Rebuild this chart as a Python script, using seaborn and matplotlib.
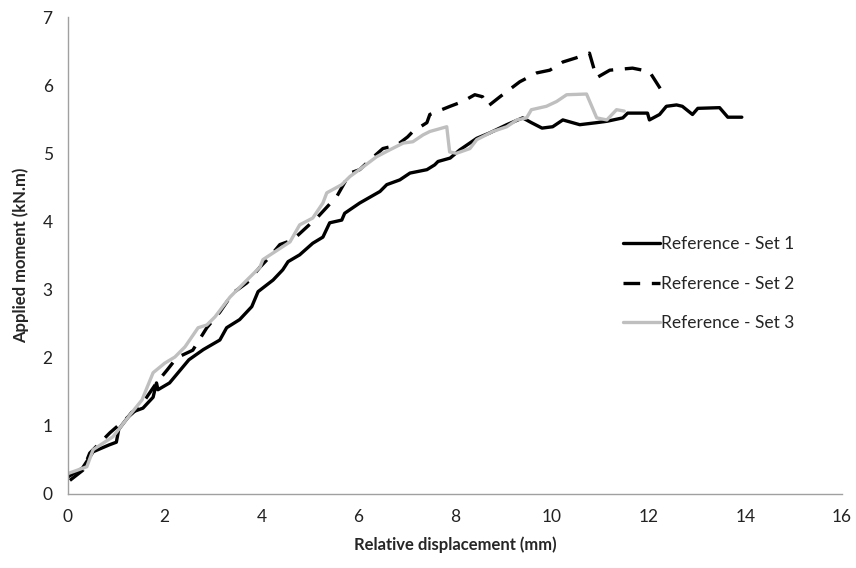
import matplotlib
matplotlib.use("Agg")
import matplotlib.pyplot as plt
import seaborn as sns
import pandas as pd

set1_x = [0.0, 0.3, 0.52, 0.85, 1.0, 1.05, 1.32, 1.55, 1.76, 1.83, 1.86, 2.1, 2.5, 2.8, 3.14, 3.28, 3.55, 3.8, 3.93,
          4.24, 4.44, 4.55, 4.79, 5.06, 5.27, 5.41, 5.66, 5.72, 6.03, 6.45, 6.59, 6.86, 7.07, 7.42, 7.58, 7.65,
          7.9, 8.1, 8.45, 8.72, 9.07, 9.4, 9.58, 9.8, 10.02, 10.23, 10.58, 10.93, 11.14, 11.47, 11.57, 11.98,
          12.02, 12.23, 12.37, 12.58, 12.7, 12.91, 13.02, 13.47, 13.64, 13.93]
set1_y = [0.25, 0.38, 0.62, 0.72, 0.76, 0.95, 1.2, 1.26, 1.42, 1.63, 1.53, 1.63, 1.97, 2.12, 2.26, 2.44, 2.56, 2.75, 2.97,
          3.14, 3.29, 3.41, 3.51, 3.68, 3.77, 3.98, 4.02, 4.12, 4.27, 4.44, 4.54, 4.61, 4.71, 4.76, 4.83, 4.88,
          4.93, 5.05, 5.22, 5.3, 5.42, 5.52, 5.45, 5.37, 5.39, 5.49, 5.42, 5.45, 5.47, 5.52, 5.59, 5.59,
          5.49, 5.57, 5.69, 5.71, 5.69, 5.57, 5.66, 5.67, 5.53, 5.53]

set2_x = [0.04, 0.31, 0.45, 0.87, 1.34, 1.55, 1.83, 2.05, 2.25, 2.58, 2.87, 3.14, 3.41, 3.7, 3.97, 4.17, 4.38, 4.65,
          5.17, 5.56, 5.83, 6.03, 6.24, 6.51, 6.8, 7.02, 7.13, 7.42, 7.48, 7.9, 8.16, 8.41, 8.57, 8.68, 8.93,
          9.34, 9.69, 9.96, 10.23, 10.5, 10.78, 10.89, 10.93, 11.2, 11.67, 12.02, 12.37]
set2_y = [0.2, 0.35, 0.6, 0.9, 1.19, 1.34, 1.63, 1.82, 2.0, 2.11, 2.44, 2.67, 2.95, 3.1, 3.33, 3.48, 3.66, 3.73,
          4.07, 4.37, 4.71, 4.76, 4.9, 5.07, 5.12, 5.24, 5.32, 5.45, 5.57, 5.69, 5.76, 5.86, 5.83, 5.69, 5.83,
          6.05, 6.18, 6.22, 6.34, 6.4, 6.47, 6.2, 6.11, 6.22, 6.25, 6.2, 5.81]

set3_x = [0.0, 0.39, 0.52, 0.93, 1.28, 1.53, 1.76, 2.0, 2.21, 2.42, 2.69, 2.87, 3.04, 3.35, 3.7, 3.97, 4.03, 4.59,
          4.79, 5.06, 5.27, 5.35, 5.66, 5.83, 6.1, 6.38, 6.65, 6.93, 7.13, 7.34, 7.48, 7.83, 7.89, 8.03, 8.31,
          8.45, 8.78, 9.07, 9.28, 9.48, 9.58, 9.89, 10.1, 10.31, 10.72, 10.93, 11.14, 11.34, 11.5]
set3_y = [0.3, 0.4, 0.65, 0.84, 1.16, 1.38, 1.78, 1.92, 2.01, 2.16, 2.44, 2.48, 2.6, 2.89, 3.14, 3.33, 3.44, 3.7,
          3.95, 4.05, 4.27, 4.42, 4.54, 4.66, 4.8, 4.95, 5.05, 5.15, 5.17, 5.27, 5.32, 5.39, 5.02, 5.0, 5.07,
          5.2, 5.32, 5.39, 5.49, 5.52, 5.64, 5.69, 5.76, 5.86, 5.87, 5.52, 5.49, 5.64, 5.62]

labels = ["Reference - Set 1", "Reference - Set 2", "Reference - Set 3"]

sns.set_style("white")
plt.rcParams["font.family"] = ["Lato", "DejaVu Sans"]

fig = plt.figure(figsize=(8.56, 5.68), dpi=100)
ax = fig.add_axes([0.0794, 0.1303, 0.9042, 0.8397])

series = [(set1_x, set1_y, "black", None), (set2_x, set2_y, "black", (5, 3.5)),
          (set3_x, set3_y, "#BFBFBF", None)]
for (xs, ys, c, d), lab in zip(series, labels):
    df = pd.DataFrame({"x": xs, "y": ys})
    sns.lineplot(data=df, x="x", y="y", ax=ax, color=c, lw=2.4, sort=False,
                 estimator=None, label=lab)
    if d is not None:
        ax.lines[-1].set_dashes(d)

ax.set_xlim(0, 16)
ax.set_ylim(0, 7)
ax.set_xticks(range(0, 17, 2))
ax.set_yticks(range(0, 8))
for s in ["top", "right"]:
    ax.spines[s].set_visible(False)
for s in ["left", "bottom"]:
    ax.spines[s].set_color("#A0A0A0")
    ax.spines[s].set_linewidth(1.0)
ax.tick_params(axis="both", which="major", direction="out", length=5, width=1,
               color="#A0A0A0", labelsize=12.5, labelcolor="#222222", pad=6)
ax.set_xlabel("Relative displacement (mm)", fontsize=12, fontweight="bold", labelpad=8)
ax.set_ylabel("Applied moment (kN.m)", fontsize=12, fontweight="bold", labelpad=10)

leg = ax.legend(loc="upper left", bbox_to_anchor=(0.697, 0.573), frameon=False, fontsize=12.5,
                handlelength=2.1, handletextpad=0.1, labelspacing=1.35, borderpad=0.4)
for h in leg.get_lines():
    h.set_linewidth(2.4)

fig.savefig("out.png", dpi=100)
